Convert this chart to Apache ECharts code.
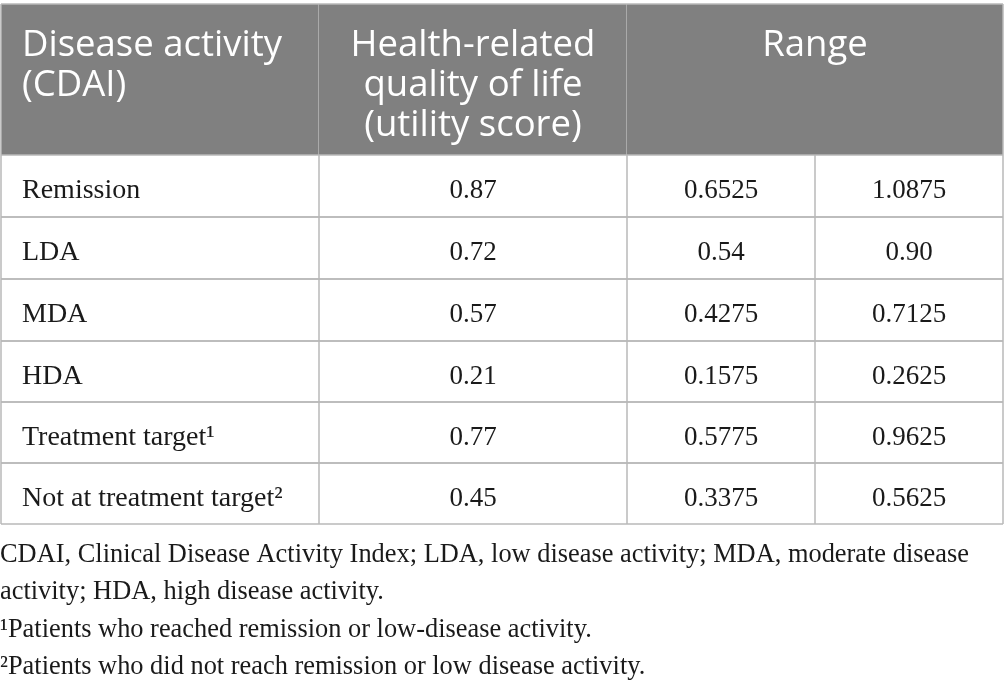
<!DOCTYPE html>
<html><head><meta charset="utf-8">
<script src="https://cdn.jsdelivr.net/npm/echarts@6/dist/echarts.min.js"></script>
<style>html,body{margin:0;padding:0;background:#fff}#c{width:1004px;height:689px}</style>
</head><body><div id="c"></div>
<script>
// ---- data ----
const headers = ["Disease activity\n(CDAI)", "Health-related\nquality of life\n(utility score)", "Range"];
const categories = ["Remission", "LDA", "MDA", "HDA", "Treatment target\u00B9", "Not at treatment target\u00B2"];
const utility = [0.87, 0.72, 0.57, 0.21, 0.77, 0.45];
const rangeLow = [0.6525, 0.54, 0.4275, 0.1575, 0.5775, 0.3375];
const rangeHigh = [1.0875, 0.90, 0.7125, 0.2625, 0.9625, 0.5625];
const footnotes = [
  "CDAI, Clinical Disease Activity Index; LDA, low disease activity; MDA, moderate disease",
  "activity; HDA, high disease activity.",
  "\u00B9Patients who reached remission or low-disease activity.",
  "\u00B2Patients who did not reach remission or low disease activity."
];

// ---- layout (pixels on a 1004x689 value grid) ----
const COL = [1, 319, 627, 815, 1003];
const ROW = [4, 155, 217, 279, 341, 402, 463, 524];
const LINE = '#b8b8b8';
const HEAD_BG = '#808080';
const SANS = '"Open Sans", "Noto Sans", sans-serif';
const SERIF = '"Liberation Serif", "DejaVu Serif", serif';
const HEAD_FS = 36.5;
const LABEL_FS = 28;
const NUM_FS = 27;
const NOTE_FS = 26.4;

function fmt(v) {
  const s = String(v);
  const d = (s.split('.')[1] || '').length;
  return d < 2 ? v.toFixed(2) : s;
}

function line(api, x1, y1, x2, y2) {
  const a = api.coord([x1, y1]), b = api.coord([x2, y2]);
  return { type: 'line', shape: { x1: a[0], y1: a[1], x2: b[0], y2: b[1] },
    style: { stroke: LINE, lineWidth: 1.5 } };
}

const chart = echarts.init(document.getElementById('c'), null, { renderer: 'canvas' });

const headerData = headers.map((h, i) => [i, h]);
const bodyData = categories.map((c, i) => [i, c, utility[i], rangeLow[i], rangeHigh[i]]);

chart.setOption({
  animation: false,
  backgroundColor: '#ffffff',
  grid: { left: 0, right: 0, top: 0, bottom: 0 },
  xAxis: { type: 'value', min: 0, max: 1004, show: false },
  yAxis: { type: 'value', min: 0, max: 689, inverse: true, show: false },
  series: [
    {
      type: 'custom',
      coordinateSystem: 'cartesian2d',
      data: headerData,
      renderItem: function (params, api) {
        const i = api.value(0);
        const text = headers[i];
        const children = [];
        const spans = [[COL[0], COL[1]], [COL[1], COL[2]], [COL[2], COL[4]]];
        const x0 = spans[i][0], x1 = spans[i][1];
        const tl = api.coord([x0, ROW[0]]), br = api.coord([x1, ROW[1]]);
        children.push({ type: 'rect', shape: { x: tl[0], y: tl[1], width: br[0] - tl[0], height: br[1] - tl[1] },
          style: { fill: HEAD_BG } });
        children.push(line(api, x0, ROW[0], x1, ROW[0]));
        children.push(line(api, x1, ROW[0], x1, ROW[1]));
        if (i === 0) children.push(line(api, x0, ROW[0], x0, ROW[1]));
        const tx = i === 0 ? x0 + 21 : (x0 + x1) / 2;
        const p = api.coord([tx, 26]);
        children.push({ type: 'text', style: {
          text: text, x: p[0], y: p[1], fill: '#ffffff',
          fontSize: HEAD_FS, fontFamily: SANS, lineHeight: 40,
          align: i === 0 ? 'left' : 'center', verticalAlign: 'top'
        } });
        return { type: 'group', children: children };
      }
    },
    {
      type: 'custom',
      coordinateSystem: 'cartesian2d',
      data: bodyData,
      renderItem: function (params, api) {
        const r = params.dataIndex;
        const y0 = ROW[r + 1], y1 = ROW[r + 2];
        const cy = (y0 + y1) / 2 + 5;
        const children = [];
        children.push(line(api, COL[0], y1, COL[4], y1));
        children.push(line(api, COL[0], y0, COL[4], y0));
        COL.forEach(x => children.push(line(api, x, y0, x, y1)));
        const texts = [categories[r], fmt(utility[r]), fmt(rangeLow[r]), fmt(rangeHigh[r])];
        texts.forEach((t, c) => {
          const tx = c === 0 ? COL[0] + 21 : (COL[c] + COL[c + 1]) / 2;
          const p = api.coord([tx, cy]);
          children.push({ type: 'text', style: {
            text: t, x: p[0], y: p[1], fill: '#1a1a1a',
            fontSize: c === 0 ? LABEL_FS : NUM_FS, fontFamily: SERIF,
            align: c === 0 ? 'left' : 'center', verticalAlign: 'middle'
          } });
        });
        return { type: 'group', children: children };
      }
    }
  ],
  graphic: footnotes.map((t, i) => ({
    type: 'text', x: 0, y: 555 + i * 37.3,
    style: { text: t, fill: '#1a1a1a', fontSize: NOTE_FS, fontFamily: SERIF, align: 'left', verticalAlign: 'middle' }
  }))
});
</script>
</body></html>
